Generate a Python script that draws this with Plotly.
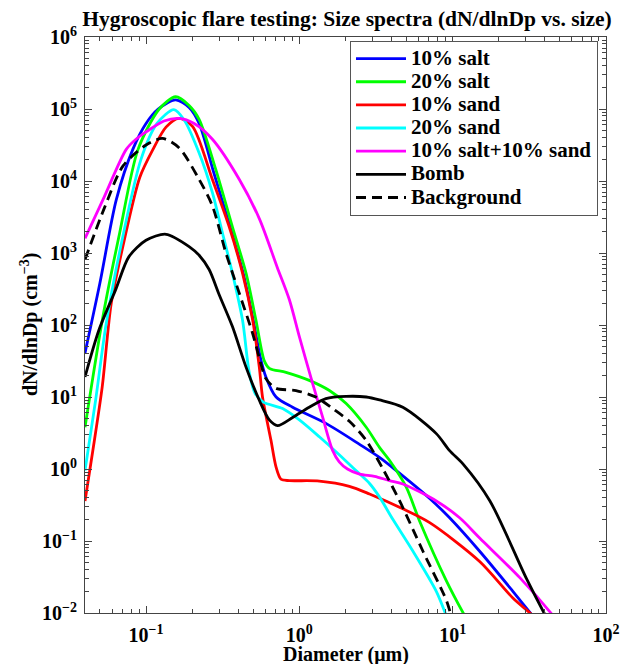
import plotly.graph_objects as go

# ---------------- data ----------------
d_salt10 = [0.040, 0.050, 0.064, 0.082, 0.100, 0.120, 0.156, 0.191, 0.222, 0.278, 0.354, 0.430,
            0.500, 0.556, 0.605, 0.705, 0.904, 1.49, 2.47, 3.33, 4.29, 7.08, 9.55, 15.0, 24.7, 33.3, 50.0]
n_salt10 = [41, 380, 5500, 27500, 63000, 100000, 134000, 105000, 63000, 12600, 2300, 525,
            117, 36, 19, 10, 7.2, 4.3, 2.2, 1.45, 0.95, 0.39, 0.21, 0.072, 0.020, 0.0091, 0.0032]

d_salt20 = [0.040, 0.0524, 0.0673, 0.0887, 0.122, 0.156, 0.191, 0.222, 0.285, 0.366, 0.449, 0.521,
            0.590, 0.637, 0.818, 1.16, 1.57, 2.02, 2.73, 3.33, 3.87, 4.98, 6.08, 9.1, 12.0, 15.0]
n_salt20 = [3.8, 132, 1900, 27500, 100000, 148000, 112000, 72000, 14500, 2300, 525, 117,
            32, 25, 22, 17, 12.3, 8.1, 3.8, 2.0, 1.32, 0.56, 0.19, 0.028, 0.0091, 0.004]

d_sand10 = [0.040, 0.0446, 0.0518, 0.0593, 0.0708, 0.091, 0.111, 0.135, 0.164, 0.201, 0.271, 0.348,
            0.426, 0.496, 0.548, 0.575, 0.653, 0.705, 0.759, 0.861, 1.35, 2.12, 2.87, 4.73, 7.08,
            15.0, 24.8, 33.5, 43.0]
n_sand10 = [0.36, 1.6, 13.8, 200, 1260, 11200, 27500, 56000, 74000, 57500, 10500, 2350,
            525, 117, 26, 10, 2.5, 1.06, 0.72, 0.69, 0.68, 0.575, 0.45, 0.28, 0.18,
            0.052, 0.016, 0.0091, 0.005]

d_sand20 = [0.040, 0.0469, 0.0548, 0.0702, 0.0927, 0.118, 0.152, 0.177, 0.222, 0.271, 0.315, 0.366,
            0.426, 0.471, 0.515, 0.582, 0.778, 1.0, 1.35, 1.82, 2.34, 2.87, 3.33, 4.07, 5.51,
            7.82, 9.1, 10.3]
n_sand20 = [0.95, 9.0, 100, 1600, 20000, 63000, 98000, 71000, 24500, 6900, 1900, 525,
            117, 22, 11.2, 8.5, 6.9, 4.8, 2.8, 1.58, 0.95, 0.63, 0.41, 0.20, 0.072,
            0.020, 0.0091, 0.0045]

d_mix = [0.040, 0.0524, 0.0743, 0.086, 0.100, 0.131, 0.164, 0.206, 0.271, 0.406, 0.548, 0.718, 0.861,
         1.0, 1.22, 1.42, 1.65, 1.82, 2.06, 2.47, 3.09, 3.87, 4.73, 7.82, 11.1, 15.0, 27.4,
         45.3, 58.0]
n_mix = [1600, 5500, 27500, 38000, 48000, 68000, 74000, 63000, 38000, 10500, 3000, 630, 224,
         69, 15.5, 5.2, 1.8, 1.26, 1.0, 0.85, 0.79, 0.69, 0.62, 0.36, 0.21, 0.11, 0.031,
         0.0091, 0.0045]

d_bomb = [0.040, 0.0493, 0.0634, 0.0774, 0.100, 0.135, 0.191, 0.222, 0.258, 0.300, 0.366, 0.449,
          0.548, 0.637, 0.721, 0.904, 1.16, 1.49, 2.02, 2.73, 3.33, 4.73, 7.82, 9.55, 11.7,
          17.5, 30.3, 40.4, 50.0]
n_bomb = [19, 85, 310, 890, 1500, 1820, 1230, 930, 590, 263, 95, 26,
          9.0, 4.8, 4.0, 5.2, 7.2, 9.5, 10.2, 10.0, 9.1, 7.2, 3.1, 1.8, 1.17,
          0.36, 0.03, 0.0091, 0.004]

d_bg = [0.040, 0.0537, 0.0708, 0.100, 0.128, 0.164, 0.222, 0.271, 0.332, 0.406, 0.496, 0.548,
        0.605, 0.705, 0.951, 1.28, 1.65, 2.12, 2.73, 3.51, 4.51, 6.4, 9.1, 9.8, 11.1]
n_bg = [810, 4300, 16200, 31600, 39000, 29000, 10500, 4500, 1000, 275, 76, 35,
        18, 13.2, 12.3, 10, 6.9, 4.6, 2.5, 1.0, 0.36, 0.072, 0.015, 0.0091, 0.0045]

series_names = ["10% salt", "20% salt", "10% sand", "20% sand", "10% salt+10% sand", "Bomb", "Background"]
series_d = [d_salt10, d_salt20, d_sand10, d_sand20, d_mix, d_bomb, d_bg]
series_n = [n_salt10, n_salt20, n_sand10, n_sand20, n_mix, n_bomb, n_bg]

x_ticks = [0.1, 1, 10, 100]
x_labels = ["10<sup>\u22121</sup>", "10<sup>0</sup>", "10<sup>1</sup>", "10<sup>2</sup>"]
y_exps = [-2, -1, 0, 1, 2, 3, 4, 5, 6]

# ---------------- styling ----------------
colors = ["#0000ff", "#00ff00", "#ff0000", "#00ffff", "#ff00ff", "#000000", "#000000"]
dashes = ["solid"] * 6 + ["10px,6px"]
FONT = "Liberation Serif"
AX = "#444444"

fig = go.Figure()
for name, d, n, c, ds in zip(series_names, series_d, series_n, colors, dashes):
    fig.add_trace(go.Scatter(x=d, y=n, mode="lines",
                             name='<span style="font-size:21px">%s</span>' % name,
                             line=dict(color=c, width=2.8, dash=ds, shape="spline", smoothing=0.8)))

y_ticks = [10.0 ** e for e in y_exps]
y_labels = ["10<sup>%s</sup>" % (str(e).replace("-", "\u2212")) for e in y_exps]
minor_x = [m * 10.0 ** e for e in range(-2, 2) for m in range(2, 10)]
minor_y = [m * 10.0 ** e for e in range(-2, 6) for m in range(2, 10)]

axis_common = dict(type="log", showgrid=False, zeroline=False, showline=True, linecolor=AX,
                   linewidth=1, mirror="allticks", ticks="inside", ticklen=7, tickcolor=AX,
                   automargin=False,
                   tickfont=dict(family=FONT, size=20, color="black", weight="bold"))

fig.update_xaxes(range=[-1.398, 2], tickmode="array", tickvals=x_ticks, ticktext=x_labels,
                 minor=dict(tickmode="array", tickvals=minor_x, ticks="inside", ticklen=4, tickcolor=AX),
                 ticklabelstandoff=4, **axis_common)
fig.update_yaxes(range=[-2, 6], tickmode="array", tickvals=y_ticks, ticktext=y_labels,
                 minor=dict(tickmode="array", tickvals=minor_y, ticks="inside", ticklen=4, tickcolor=AX),
                 ticklabelstandoff=3, **axis_common)

fig.update_layout(
    template="none",
    width=624, height=664,
    margin=dict(l=85, r=18, t=37, b=51, autoexpand=False),
    paper_bgcolor="white", plot_bgcolor="white",
    title=dict(text="Hygroscopic flare testing: Size spectra (dN/dlnDp vs. size)",
               x=347 / 624, xanchor="center", y=1 - 18 / 664, yanchor="middle",
               font=dict(family=FONT, size=21.5, color="black", weight="bold")),
    legend=dict(x=(350 - 85) / 521, y=1 - (41 - 37) / 576, xanchor="left", yanchor="top",
                bgcolor="white", bordercolor="#555555", borderwidth=1, itemwidth=50,
                font=dict(family=FONT, size=15.5, color="black", weight="bold")),
    annotations=[
        dict(text="Diameter (\u03bcm)", xref="paper", yref="paper", x=0.5, y=-(654 - 613) / 576,
             xanchor="center", yanchor="middle", showarrow=False,
             font=dict(family=FONT, size=20, color="black", weight="bold")),
        dict(text="dN/dlnDp (cm<sup>\u22123</sup>)", xref="paper", yref="paper",
             x=-(85 - 29) / 521, y=0.5, xanchor="center", yanchor="middle", textangle=-90,
             showarrow=False, font=dict(family=FONT, size=20, color="black", weight="bold")),
    ],
)

fig.write_html("out.html", config={"displayModeBar": False},
               post_script="document.body.style.margin='0';")
